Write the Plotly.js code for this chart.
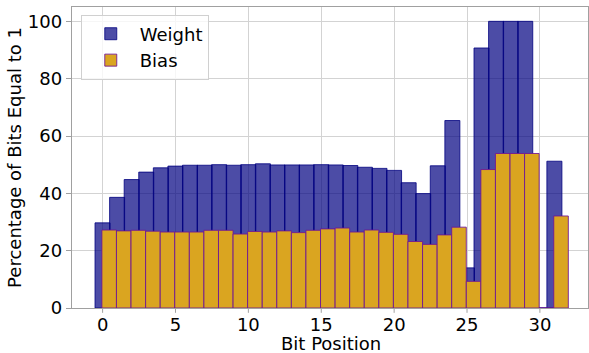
<!DOCTYPE html>
<html>
<head>
<meta charset="utf-8">
<script src="https://cdn.plot.ly/plotly-3.0.1.min.js"></script>
<style>html,body{margin:0;padding:0;background:#fff;}#chart{width:589px;height:353px;}</style>
</head>
<body>
<div id="chart"></div>
<script>
const bitPositions = [0,1,2,3,4,5,6,7,8,9,10,11,12,13,14,15,16,17,18,19,20,21,22,23,24,25,26,27,28,29,30,31];
const weightPct = [29.7,38.6,44.8,47.4,48.9,49.5,49.8,49.8,50.0,49.8,50.0,50.3,49.9,49.9,49.9,50.0,49.9,49.7,49.1,48.7,48.0,43.7,39.9,49.6,65.4,14.0,90.7,100,100,100,0,51.2];
const biasPct = [27.2,26.9,27.1,26.8,26.5,26.5,26.5,27.1,27.1,25.8,26.7,26.5,26.9,26.3,27.1,27.6,27.9,26.5,27.2,26.4,25.7,23.2,22.2,25.5,28.2,9.3,48.3,53.9,53.9,53.9,0,32.1];
const xTicks = [0,5,10,15,20,25,30];
const yTicks = [0,20,40,60,80,100];
const xTitle = 'Bit Position';
const yTitle = 'Percentage of Bits Equal to 1';

const font = {family: 'DejaVu Sans, sans-serif', size: 18, color: '#000'};

const traces = [
  {
    type: 'bar', name: 'Weight', x: bitPositions, y: weightPct,
    width: 1.03, offset: -0.52,
    marker: {color: 'rgba(0,0,128,0.7)', line: {color: 'rgba(0,0,128,0.8)', width: 1}}
  },
  {
    type: 'bar', name: 'Bias', x: bitPositions, y: biasPct,
    width: 1.0, offset: -0.05,
    marker: {color: 'goldenrod', line: {color: 'rgba(110,20,150,0.85)', width: 1}}
  }
];

const tickShapes = xTicks.map(v => ({
  type: 'line', xref: 'x', yref: 'paper', x0: v, x1: v, y0: 0, y1: -0.016,
  line: {color: '#a0a0a0', width: 1}
}));

const layout = {
  width: 589, height: 353,
  margin: {l: 72, r: 1, t: 7, b: 45},
  paper_bgcolor: '#fff', plot_bgcolor: '#fff',
  barmode: 'overlay',
  font: font,
  showlegend: true,
  legend: {
    x: 0.017, y: 0.975, xanchor: 'left', yanchor: 'top',
    bgcolor: 'rgba(255,255,255,0.8)', bordercolor: '#d0d0d0', borderwidth: 1,
    font: {family: 'DejaVu Sans, sans-serif', size: 18, color: '#000'},
    itemwidth: 48,
    tracegroupgap: 4
  },
  xaxis: {
    range: [-2.1, 33.3],
    tickvals: xTicks, ticktext: xTicks.map(String),
    showgrid: true, gridcolor: '#d3d3d3', gridwidth: 1,
    zeroline: false,
    showline: true, linecolor: '#a0a0a0', linewidth: 1.2, mirror: true,
    ticks: '',
    tickfont: font
  },
  yaxis: {
    range: [0, 105],
    tickvals: yTicks,
    showgrid: true, gridcolor: '#d3d3d3', gridwidth: 1,
    zeroline: false,
    showline: true, linecolor: '#a0a0a0', linewidth: 1.2, mirror: true,
    ticks: 'outside', ticklen: 5, tickcolor: '#a0a0a0',
    tickfont: font,
    title: {text: yTitle, font: font, standoff: 1}
  },
  shapes: tickShapes,
  annotations: [{
    text: xTitle, xref: 'paper', yref: 'paper', x: 0.502, y: 0,
    xanchor: 'center', yanchor: 'top', yshift: -24, borderpad: 0, showarrow: false,
    font: font
  }]
};

Plotly.newPlot('chart', traces, layout, {displayModeBar: false, staticPlot: true});
</script>
</body>
</html>
